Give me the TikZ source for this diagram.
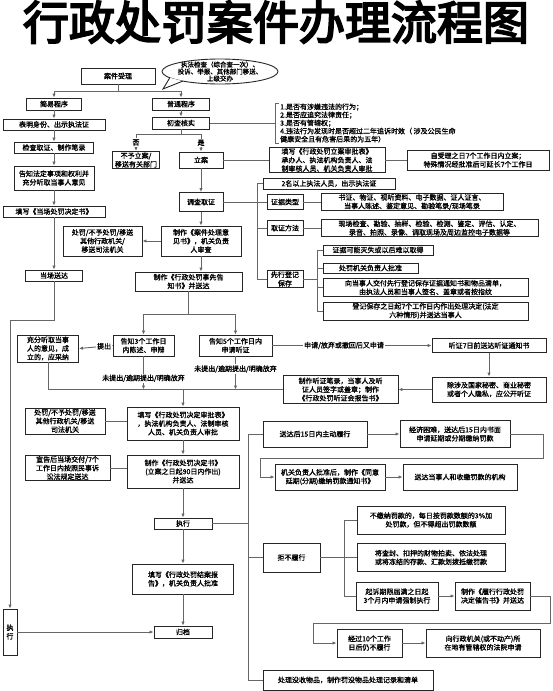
\documentclass[tikz,border=0pt]{standalone}
\usepackage{fontspec}
\usetikzlibrary{arrows.meta,calc}
\newfontfamily\cjk[FakeBold=1.2]{Noto Sans CJK SC}
\newfontfamily\cjktitle[FakeBold=4]{Noto Sans CJK SC}
\tikzset{
  box/.style={draw=black!85, line width=0.9pt, fill=white, align=center, inner sep=1pt,
    font=\cjk\fontsize{7}{8.6}\selectfont, text=black},
  ln/.style={draw=black!60, line width=0.9pt},
  arr/.style={ln, -{Latex[length=4pt,width=3.4pt]}},
  lbl/.style={font=\cjk\fontsize{7}{8.6}\selectfont, inner sep=1pt, fill=white, text=black},
}
\begin{document}
\begin{tikzpicture}[x=1pt,y=-1pt]
\useasboundingbox (0,0) rectangle (553,691);
\fill[white] (0,0) rectangle (553,691);

% title
\node[font=\cjktitle\fontsize{46}{46}\selectfont, inner sep=0] (title) at (276,22) {行政处罚案件办理流程图};

% top
\node[box, minimum width=74, minimum height=16] (accept) at (118,76) {案件受理};
% speech bubble
\draw[draw=black!85, line width=0.9pt, fill=white] (220,71.5) ellipse [x radius=58, y radius=12.5];
\fill[white] (169.8,77.75) -- (163,89) -- (182.7,81.1) -- cycle;
\draw[draw=black!85, line width=0.9pt] (169.8,77.75) -- (163,89) -- (182.7,81.1);
\node[align=center, inner sep=0, font=\cjk\fontsize{6.5}{7}\selectfont] (bubble) at (220,71.5) {执法检查（综合查一次）、\\投诉、举报、其他部门移送、\\上级交办};

% left column (simple procedure)
\node[box, minimum width=55, minimum height=12] (simple) at (54,104) {简易程序};
\node[box, minimum width=102, minimum height=11] (show) at (54,124.5) {表明身份、出示执法证};
\node[box, minimum width=79, minimum height=11] (check) at (54,147.5) {检查取证、制作笔录};
\node[box, minimum width=80, minimum height=24] (inform) at (54,178) {告知法定事项和权利并\\充分听取当事人意见};
\node[box, minimum width=102, minimum height=11] (fillsimple) at (54,211.5) {填写《当场处罚决定书》};
\node[box, minimum width=57, minimum height=11] (deliver) at (54,275.5) {当场送达};
\node[box, minimum width=14, minimum height=46, inner sep=0] (execleft) at (10,632) {执\\行};

% normal procedure
\node[box, minimum width=57, minimum height=12] (normal) at (181,104) {普通程序};
\node[box, minimum width=57, minimum height=12] (verify) at (181,123) {初查核实};
\node[box, minimum width=47, minimum height=16] (no) at (136,160) {不予立案/\\移送有关部门};
\node[box, minimum width=44, minimum height=16] (file) at (201,160) {立案};
\node[align=left, anchor=west, inner sep=0, font=\cjk\fontsize{7}{8.1}\selectfont] (crit) at (280,123)
  {1.是否有涉嫌违法的行为；\\2.是否应追究法律责任；\\3.是否有管辖权；\\4.违法行为发现时是否超过二年追诉时效（ 涉及公民生命\\健康安全且有危害后果的为五年）};
\node[box, minimum width=116, minimum height=24] (approve) at (327,160) {填写《行政处罚立案审批表》\\承办人、执法机构负责人、法\\制审核人员、机关负责人审批};
\node[box, minimum width=142, minimum height=20] (deadline) at (478,160) {自受理之日7个工作日内立案；\\特殊情况经批准后可延长7个工作日};

\node[box, minimum width=44, minimum height=19] (investigate) at (201,202) {调查取证};
\node[box, minimum width=132, minimum height=11] (twoppl) at (329,183.5) {2名以上执法人员，出示执法证};
\node[box, minimum width=36, minimum height=15] (evtype) at (285,202) {证据类型};
\node[box, minimum width=182, minimum height=17] (evlist) at (412,202) {书证、物证、视听资料、电子数据、证人证言、\\当事人陈述、鉴定意见、勘验笔录/现场笔录};
\node[box, minimum width=36, minimum height=15] (method) at (285,228) {取证方法};
\node[box, minimum width=217, minimum height=17] (methodlist) at (429.5,228) {现场检查、勘验、抽样、检验、检测、鉴定、评估、认定、\\录音、拍照、录像、调取现场及周边监控电子数据等};
\node[box, minimum width=36, minimum height=16] (preserve) at (285,279) {先行登记\\保存};
\node[box, minimum width=110, minimum height=10] (p1) at (378,250) {证据可能灭失或以后难以取得};
\node[box, minimum width=95, minimum height=10] (p2) at (370.5,268) {处罚机关负责人批准};
\node[box, minimum width=205, minimum height=17] (p3) at (425.5,287.5) {向当事人交付先行登记保存证据通知书和物品清单，\\由执法人员和当事人签名、盖章或者按指纹};
\node[box, minimum width=205, minimum height=16] (p4) at (425.5,311) {登记保存之日起7个工作日内作出处理决定(法定\\六种情形)并送达当事人};

\node[box, minimum width=80, minimum height=30] (opinion) at (201,241) {制作《案件处理意\\见书》，机关负责\\人审查};
\node[box, minimum width=79, minimum height=30] (opleft) at (102.5,241) {处罚/不予处罚/移送\\其他行政机关/\\移送司法机关};
\node[box, minimum width=107, minimum height=19] (notice) at (188.5,281.5) {制作《行政处罚事先告\\知书》并送达};
\node[box, minimum width=61, minimum height=21] (tell3) at (143.5,345.5) {告知3个工作日\\内陈述、申辩};
\node[box, minimum width=73, minimum height=21] (tell5) at (235.5,345.5) {告知5个工作日内\\申请听证};
\node[box, minimum width=61, minimum height=27] (listen) at (48,348.5) {充分听取当事\\人的意见，成\\立的，应采纳};
\node[box, minimum width=114, minimum height=14] (hearnotice) at (489,345.5) {听证7日前送达听证通知书};
\node[box, minimum width=114, minimum height=25] (public) at (489,389.5) {除涉及国家秘密、商业秘密\\或者个人隐私，应公开听证};
\node[box, minimum width=115, minimum height=28] (record) at (340.5,389.5) {制作听证笔录，当事人及听\\证人员签字或盖章；制作\\《行政处罚听证会报告书》};

\node[box, minimum width=112, minimum height=33] (decapprove) at (183,423.5) {填写《行政处罚决定审批表》\\，执法机构负责人、法制审核\\人员、机关负责人审批};
\node[box, minimum width=80, minimum height=26] (decleft) at (65,421) {处罚/不予处罚/移送\\其他行政机关/移送\\司法机关};
\node[box, minimum width=112, minimum height=33] (decision) at (183,471.5) {制作《行政处罚决定书》\\(立案之日起90日内作出)\\并送达};
\node[box, minimum width=85, minimum height=25] (decleft2) at (67.5,468) {宣告后当场交付/7个\\工作日内按照民事诉\\讼法规定送达};
\node[box, minimum width=58, minimum height=11] (exec) at (183,523.5) {执行};
\node[box, minimum width=101, minimum height=30] (close) at (183,579) {填写《行政处罚结案报\\告》，机关负责人批准};
\node[box, minimum width=58, minimum height=12] (archive) at (183,632) {归档};

% right lower
\node[box, minimum width=104, minimum height=26] (pay15) at (315,434) {送达后15日内主动履行};
\node[box, minimum width=110, minimum height=27] (hardship) at (455,434) {经济困难，送达后15日内书面\\申请延期或分期缴纳罚款};
\node[box, minimum width=110, minimum height=26] (agree) at (330,477) {机关负责人批准后，制作《同意\\延期(分期)缴纳罚款通知书》};
\node[box, minimum width=114, minimum height=26] (sendpay) at (460,477) {送达当事人和收缴罚款的机构};
\node[box, minimum width=57, minimum height=29] (refuse) at (291.5,557.5) {拒不履行};
\node[box, minimum width=148, minimum height=28] (r1) at (431,520) {不缴纳罚款的，每日按罚款数额的3\%加\\处罚款，但不得超出罚款数额};
\node[box, minimum width=148, minimum height=28] (r2) at (431,557.5) {将查封、扣押的财物拍卖、依法处理\\或将冻结的存款、汇款划拨抵缴罚款};
\node[box, minimum width=82, minimum height=28] (r3) at (397,596) {起诉期限届满之日起\\3个月内申请强制执行};
\node[box, minimum width=75, minimum height=28] (remind) at (492.5,596) {制作《履行行政处罚\\决定催告书》并送达};
\node[box, minimum width=65, minimum height=28] (after10) at (369.5,643) {经过10个工作\\日后仍不履行};
\node[box, minimum width=114, minimum height=28] (court) at (483,643) {向行政机关(或不动产)所\\在地有管辖权的法院申请};
\node[box, minimum width=170, minimum height=20] (confiscate) at (348,680) {处理没收物品，制作罚没物品处理记录和清单};

% ---------- connectors ----------
\coordinate (a0) at (118,91);
\draw[arr] (accept.south) -- (a0) -| (simple.north);
\draw[arr] (a0) -| (normal.north);

\draw[arr] (simple) -- (show);
\draw[arr] (show) -- (check);
\draw[arr] (check) -- (inform);
\draw[arr] (inform) -- (fillsimple);
\draw[arr] (fillsimple) -- (deliver);
\coordinate (d1) at (54,320);
\coordinate (d2) at (10,320);
\draw[arr] (deliver.south) -- (d1) -- (d2) -- (execleft.north);
\draw[arr] (execleft.east) -- (archive.west);

\draw[arr] (normal) -- (verify);
\coordinate (v0) at (181,134);
\draw[ln] (verify.south) -- (v0);
\draw[arr] (v0) -| node[pos=0.75, lbl] {否} (no.north);
\draw[arr] (v0) -| node[pos=0.75, lbl] {是} (file.north);
\coordinate (cb) at (275,123);
\draw[ln] (verify.east) -- (cb);
\draw[ln] (279,103) -- (275,103) -- (275,143) -- (279,143);

\draw[ln] (file) -- (approve);
\draw[ln] (approve) -- (deadline);
\draw[arr] (file) -- (investigate);

\coordinate (ib) at (257,202);
\draw[ln] (investigate.east) -- (ib);
\draw[ln] (257,183.5) -- (257,279);
\draw[ln] (257,183.5) -- (twoppl.west);
\draw[ln] (257,228) -- (method.west);
\draw[ln] (257,279) -- (preserve.west);
\draw[ln] (ib) -- (evtype.west);
\draw[ln] (evtype) -- (evlist);
\draw[ln] (method) -- (methodlist);
\coordinate (pb) at (317,279);
\draw[ln] (preserve.east) -- (pb);
\draw[ln] (317,250) -- (317,311);
\draw[ln] (317,250) -- (p1.west);
\draw[ln] (317,268) -- (p2.west);
\draw[ln] (317,287.5) -- (p3.west);
\draw[ln] (317,311) -- (p4.west);

\draw[arr] (investigate) -- (opinion);
\draw[arr] (opinion) -- (opleft);
\draw[arr] (opinion.south) -- (opinion.south |- notice.north);
\coordinate (n0) at (188.5,314);
\draw[ln] (notice.south) -- (n0);
\draw[arr] (n0) -| (tell3.north);
\draw[arr] (n0) -| (tell5.north);

\draw[arr] (tell3.west) -- node[lbl, pos=0.25] {提出} (listen.east);
\draw[arr] (tell5.east) -- node[lbl, pos=0.45] {申请/放弃或撤回后又申请} (hearnotice.west);
\draw[arr] (hearnotice) -- (public);
\draw[arr] (public) -- (record);

\coordinate (h0) at (48,389.5);
\coordinate (h1) at (183,389.5);
\draw[ln] (listen.south) -- (h0) -- (record.west);
\draw[arr] (tell3.south) -- node[lbl, pos=0.66] {未提出/逾期提出/明确放弃} (tell3.south |- h0);
\draw[arr] (tell5.south) -- node[lbl, pos=0.38] {未提出/逾期提出/明确放弃} (tell5.south |- h0);
\draw[arr] (h1) -- (decapprove.north);

\draw[ln] (decleft.east) -- (decleft.east -| decapprove.west);
\draw[arr] (decapprove) -- (decision);
\draw[ln] (decleft2.east) -- (decleft2.east -| decision.west);
\draw[arr] (decision) -- (exec);
\draw[arr] (exec) -- (close);
\draw[arr] (close) -- (archive);

% execution branch
\coordinate (e0) at (248,434);
\coordinate (e1) at (248,680);
\draw[ln] (exec.east) -- (exec.east -| e0);
\draw[ln] (e0) -- (e1);
\draw[ln] (e0) -- (pay15.west);
\draw[ln] (248,557.5) -- (refuse.west);
\draw[ln] (e1) -- (confiscate.west);

\draw[arr] (pay15) -- (hardship);
\coordinate (k1) at (543,434);
\coordinate (k2) at (543,458);
\coordinate (k3) at (260,458);
\coordinate (k4) at (260,477);
\draw[arr] (hardship.east) -- (k1) -- (k2) -- (k3) -- (k4) -- (agree.west);
\draw[arr] (agree) -- (sendpay);

\coordinate (rb) at (344,557.5);
\draw[ln] (refuse.east) -- (rb);
\draw[ln] (344,520) -- (344,596);
\draw[ln] (344,520) -- (r1.west);
\draw[ln] (rb) -- (r2.west);
\draw[ln] (344,596) -- (r3.west);
\draw[arr] (r3) -- (remind);
\coordinate (m1) at (550,596);
\coordinate (m2) at (550,623);
\coordinate (m3) at (313,623);
\coordinate (m4) at (313,643);
\draw[arr] (remind.east) -- (m1) -- (m2) -- (m3) -- (m4) -- (after10.west);
\draw[arr] (after10) -- (court);

\end{tikzpicture}
\end{document}
